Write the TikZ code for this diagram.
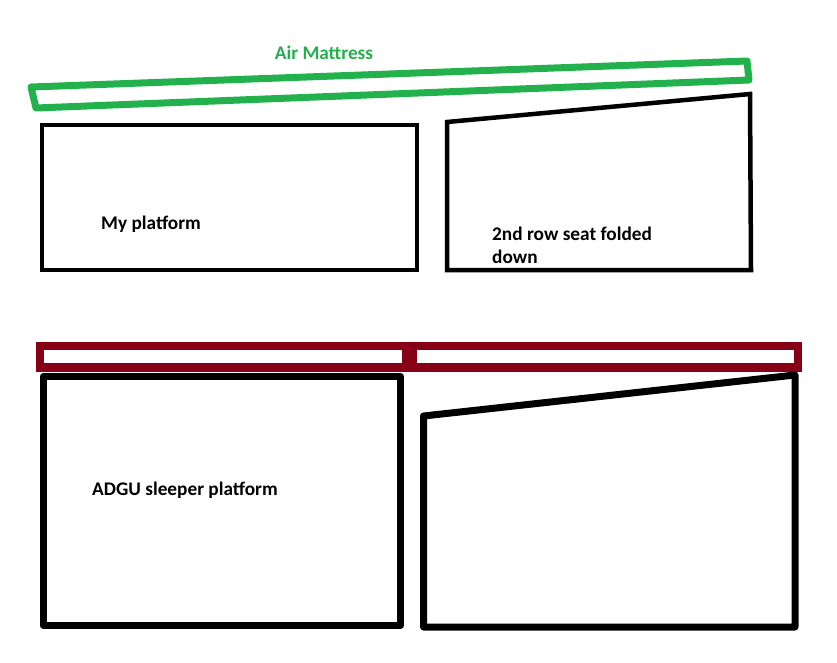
\documentclass[tikz,border=0pt]{standalone}
\usepackage{fontspec}
\setmainfont{Carlito}
\definecolor{paintgreen}{HTML}{22B14C}
\definecolor{paintred}{HTML}{880015}
\tikzset{
  lbl/.style={font=\bfseries\fontsize{19.3}{23}\selectfont, inner sep=0pt, anchor=west, align=left},
  thinbox/.style={draw=black, line width=4.5pt, line join=miter},
  thickbox/.style={draw=black, line width=7pt, line join=round},
  mattress/.style={draw=paintgreen, line width=7pt, line join=round}
}
\begin{document}
\begin{tikzpicture}[x=1pt,y=-1pt]
\useasboundingbox (0,0) rectangle (837,662);
% Air mattress
\draw[mattress] (31,87) -- (747,61) -- (749,80) -- (36,108) -- cycle;
\node[lbl, text=paintgreen, anchor=center] (air) at (324,53) {Air Mattress};
% upper left platform
\draw[thinbox] (42,125) rectangle (417,270);
\node[lbl] (myp) at (101,224) {My platform};
% upper right seat
\draw[thinbox] (447,270) -- (447,122) -- (750,94) -- (751,270) -- cycle;
\node[lbl] (seat) at (492,245.5) {2nd row seat folded\\down};
% sleeper platform top (dark red)
\fill[paintred] (36,342) rectangle (802,372);
\fill[white] (44,350) rectangle (402,363);
\fill[white] (417,350) rectangle (794,363);
% lower left
\draw[thickbox] (43,376.5) rectangle (400.5,625.5);
\node[lbl] (adgu) at (92,490) {ADGU sleeper platform};
% lower right
\draw[thickbox] (423.5,627) -- (423.5,416) -- (795,375) -- (795,627) -- cycle;
\end{tikzpicture}
\end{document}
